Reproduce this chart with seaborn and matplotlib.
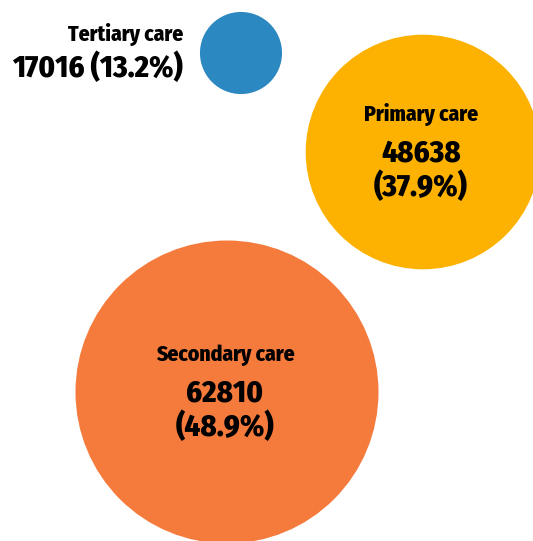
import matplotlib
matplotlib.use("Agg")
import matplotlib.pyplot as plt
import seaborn as sns
import pandas as pd

# values
categories = ["Tertiary care", "Primary care", "Secondary care"]
counts = [17016, 48638, 62810]
shares = [13.2, 37.9, 48.9]
colors = ["#2b88c0", "#fdb201", "#f47b3c"]

# layout (pixel coords on a 533x541 canvas)
centers_x = [241, 423, 227]
centers_y = [53, 152, 392]
px_per_unit = 151.5 / 62810  # radius scales linearly with count

sns.set_style("white")
plt.rcParams["font.family"] = ["Fira Sans Condensed", "DejaVu Sans"]

df = pd.DataFrame({"category": categories, "count": counts, "share": shares,
                   "x": centers_x, "y": centers_y})
dpi = 100
df["s"] = [(2 * c * px_per_unit * 72 / dpi) ** 2 for c in counts]

fig = plt.figure(figsize=(5.33, 5.41), dpi=dpi)
ax = fig.add_axes([0, 0, 1, 1])
sns.scatterplot(data=df, x="x", y="y", hue="category",
                palette=dict(zip(categories, colors)), s=df["s"],
                linewidth=0, legend=False, ax=ax)
ax.set_xlim(0, 533)
ax.set_ylim(541, 0)
ax.set_axis_off()

txt = dict(fontweight="heavy", color="black")

# tertiary: label sits to the left of its small bubble
ax.text(183, 35, categories[0], ha="right", va="center", fontsize=15.5, **txt)
ax.text(183, 68, f"{counts[0]} ({shares[0]}%)", ha="right", va="center",
        fontsize=22, **txt)

for i in (1, 2):
    cx = centers_x[i] - 2
    cy = centers_y[i]
    ax.text(cx, cy - 37, categories[i], ha="center", va="center", fontsize=15.5, **txt)
    ax.text(cx, cy + 1, f"{counts[i]}", ha="center", va="center", fontsize=22, **txt)
    ax.text(cx, cy + 35, f"({shares[i]}%)", ha="center", va="center", fontsize=22, **txt)

fig.savefig("out.png", dpi=dpi)
